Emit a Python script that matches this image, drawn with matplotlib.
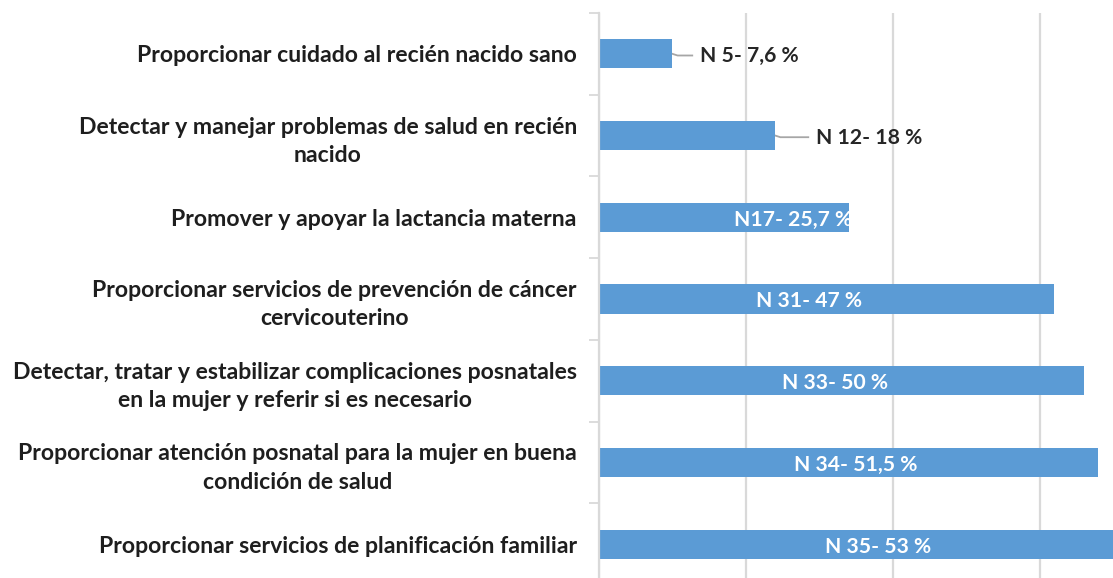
import matplotlib
matplotlib.use("Agg")
import matplotlib.pyplot as plt
import numpy as np

categories = [
    "Proporcionar cuidado al recién nacido sano",
    "Detectar y manejar problemas de salud en recién\nnacido",
    "Promover y apoyar la lactancia materna",
    "Proporcionar servicios de prevención de cáncer\ncervicouterino",
    "Detectar, tratar y estabilizar complicaciones posnatales\nen la mujer y referir si es necesario",
    "Proporcionar atención posnatal para la mujer en buena\ncondición de salud",
    "Proporcionar servicios de planificación familiar",
]
counts = [5, 12, 17, 31, 33, 34, 35]
labels = ["N 5- 7,6 %", "N 12- 18 %", "N17- 25,7 %", "N 31- 47 %",
          "N 33- 50 %", "N 34- 51,5 %", "N 35- 53 %"]
x_ticks = [0, 10, 20, 30]

# layout (label anchor x in data units, outside flag)
label_x = [6.9, 14.8, 13.2, 14.3, 16.1, 17.5, 19.0]
outside = [True, True, False, False, False, False, False]

plt.rcParams['font.family'] = ['Lato', 'DejaVu Sans']

W, H = 1113, 578
fig = plt.figure(figsize=(W / 100, H / 100), dpi=100)
left = 599 / W
top = 1 - 13 / H
bottom = 1 - 585 / H
ax = fig.add_axes([left, bottom, 1 - left, top - bottom])

y = np.arange(len(categories))
bar_color = "#5B9BD5"
ax.barh(y, counts, height=0.355, color=bar_color, zorder=2)

ax.set_xlim(0, 35)
ax.set_ylim(len(categories) - 0.5, -0.5)
ax.set_xticks(x_ticks)
ax.xaxis.grid(True, color="#d9d9d9", linewidth=1.6, zorder=0)
ax.set_axisbelow(True)
ax.tick_params(axis="x", length=0, labelbottom=False)

for s in ["top", "right", "bottom"]:
    ax.spines[s].set_visible(False)
ax.spines["left"].set_color("#d9d9d9")
ax.spines["left"].set_linewidth(1.6)

ax.set_yticks(y)
ax.set_yticklabels(categories, fontsize=16.6, fontweight="bold",
                   color="#1e1e1e", multialignment="center",
                   linespacing=1.42)
ax.tick_params(axis="y", length=0, pad=16)
ax.set_yticks(np.arange(-0.5, len(categories) + 0.5, 1), minor=True)
ax.tick_params(axis="y", which="minor", length=7, width=1.3,
               color="#d9d9d9")

for i, (c, lab, lx, out) in enumerate(zip(counts, labels, label_x, outside)):
    if out:
        ax.text(lx, i + 0.03, lab, ha="left", va="center", fontsize=15.2,
                fontweight="bold", color="#262626", zorder=1)
        ax.plot([c, c + 0.35, lx - 0.55], [i, i + 0.02, i + 0.02],
                color="#a6a6a6", linewidth=1.3, zorder=1)
    else:
        ax.text(lx, i + 0.03, lab, ha="center", va="center", fontsize=15.2,
                fontweight="bold", color="white", zorder=3)

fig.savefig("out.png", dpi=100)
